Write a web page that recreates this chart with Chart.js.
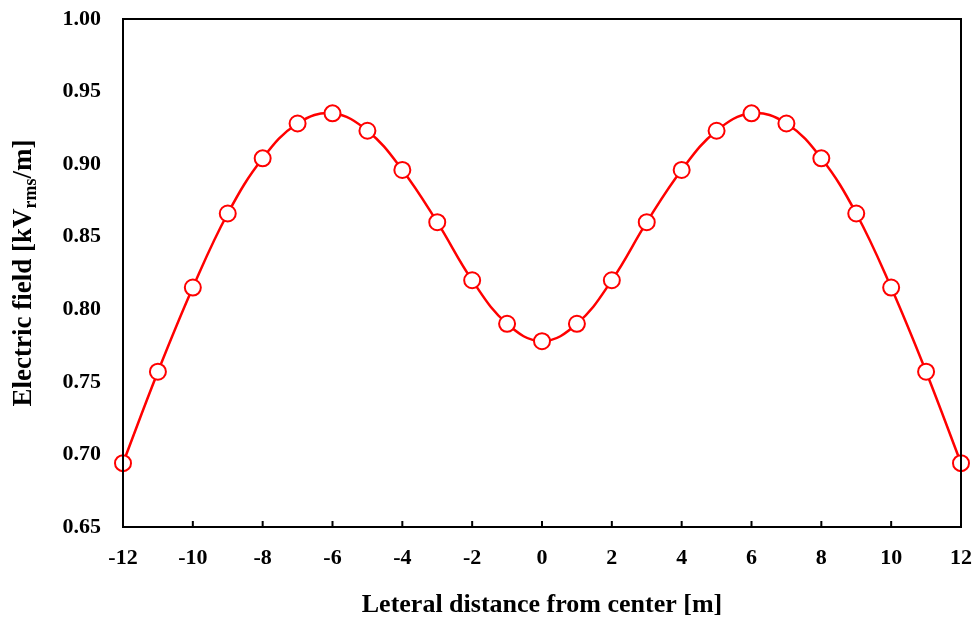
<!DOCTYPE html>
<html>
<head>
<meta charset="utf-8">
<script src="https://cdn.jsdelivr.net/npm/chart.js@4"></script>
<style>
  html, body { margin: 0; padding: 0; background: #fff; }
  #wrap { width: 979px; height: 621px; }
</style>
</head>
<body>
<div id="wrap"><canvas id="myChart"></canvas></div>
<script>
const distance = [-12, -11, -10, -9, -8, -7, -6, -5, -4, -3, -2, -1, 0, 1, 2, 3, 4, 5, 6, 7, 8, 9, 10, 11, 12];
const field = [0.694, 0.757, 0.815, 0.866, 0.904, 0.928, 0.935, 0.923, 0.896, 0.860, 0.820, 0.790, 0.778,
               0.790, 0.820, 0.860, 0.896, 0.923, 0.935, 0.928, 0.904, 0.866, 0.815, 0.757, 0.694];
const xTitle = "Leteral distance from center [m]";
const yTitle = ["Electric field [kV", "rms", "/m]"];

const font = "'Liberation Serif', 'Times New Roman', serif";

// frame, inward x ticks and the y title with subscript
const framePlugin = {
  id: 'frame',
  afterDraw(chart) {
    const ctx = chart.ctx;
    const a = chart.chartArea;
    ctx.save();
    ctx.strokeStyle = '#000';
    ctx.lineWidth = 2;
    ctx.strokeRect(a.left, a.top, a.right - a.left, a.bottom - a.top);
    const xs = chart.scales.x;
    ctx.beginPath();
    xs.ticks.forEach(t => {
      const px = xs.getPixelForValue(t.value);
      ctx.moveTo(px, a.bottom);
      ctx.lineTo(px, a.bottom - 6);
    });
    ctx.stroke();

    ctx.translate(24, (a.top + a.bottom) / 2);
    ctx.rotate(-Math.PI / 2);
    ctx.fillStyle = '#000';
    ctx.textBaseline = 'middle';
    const big = 'bold 27px ' + font;
    const small = 'bold 18px ' + font;
    ctx.font = big;
    const w1 = ctx.measureText(yTitle[0]).width;
    const w3 = ctx.measureText(yTitle[2]).width;
    ctx.font = small;
    const w2 = ctx.measureText(yTitle[1]).width;
    let x = -(w1 + w2 + w3) / 2;
    ctx.font = big;
    ctx.fillText(yTitle[0], x, 0);
    x += w1;
    ctx.font = small;
    ctx.fillText(yTitle[1], x, 7);
    x += w2;
    ctx.font = big;
    ctx.fillText(yTitle[2], x, 0);
    ctx.restore();
  }
};

const chart = new Chart(document.getElementById('myChart'), {
  type: 'line',
  data: {
    datasets: [{
      data: distance.map((d, i) => ({ x: d, y: field[i] })),
      borderColor: 'red',
      backgroundColor: 'white',
      borderWidth: 2.5,
      tension: 0.4,
      pointRadius: 8,
      pointBorderWidth: 2,
      pointBorderColor: 'red',
      pointBackgroundColor: 'white',
      clip: false
    }]
  },
  options: {
    responsive: true,
    maintainAspectRatio: false,
    animation: false,
    events: [],
    layout: { padding: { top: 19, right: 18, left: 0, bottom: 0 } },
    plugins: { legend: { display: false }, tooltip: { enabled: false } },
    scales: {
      x: {
        type: 'linear',
        min: -12, max: 12,
        border: { display: false },
        grid: { display: false },
        ticks: {
          stepSize: 2,
          padding: 10,
          color: '#000',
          font: { family: font, size: 22, weight: 'bold' },
          maxRotation: 0
        },
        title: {
          display: true,
          text: xTitle,
          color: '#000',
          font: { family: font, size: 26, weight: 'bold' },
          padding: { top: 14, bottom: 0 }
        },
        afterFit(scale) {
          scale.height = 94;
          scale.paddingLeft = 0;
          scale.paddingRight = 0;
        }
      },
      y: {
        min: 0.65, max: 1.0,
        border: { display: false },
        grid: { display: false },
        ticks: {
          stepSize: 0.05,
          padding: 14,
          color: '#000',
          font: { family: font, size: 22, weight: 'bold' },
          callback: v => v.toFixed(2)
        },
        afterFit(scale) {
          scale.width = 123;
          scale.paddingTop = 0;
          scale.paddingBottom = 0;
        }
      }
    }
  },
  plugins: [framePlugin]
});
</script>
</body>
</html>
